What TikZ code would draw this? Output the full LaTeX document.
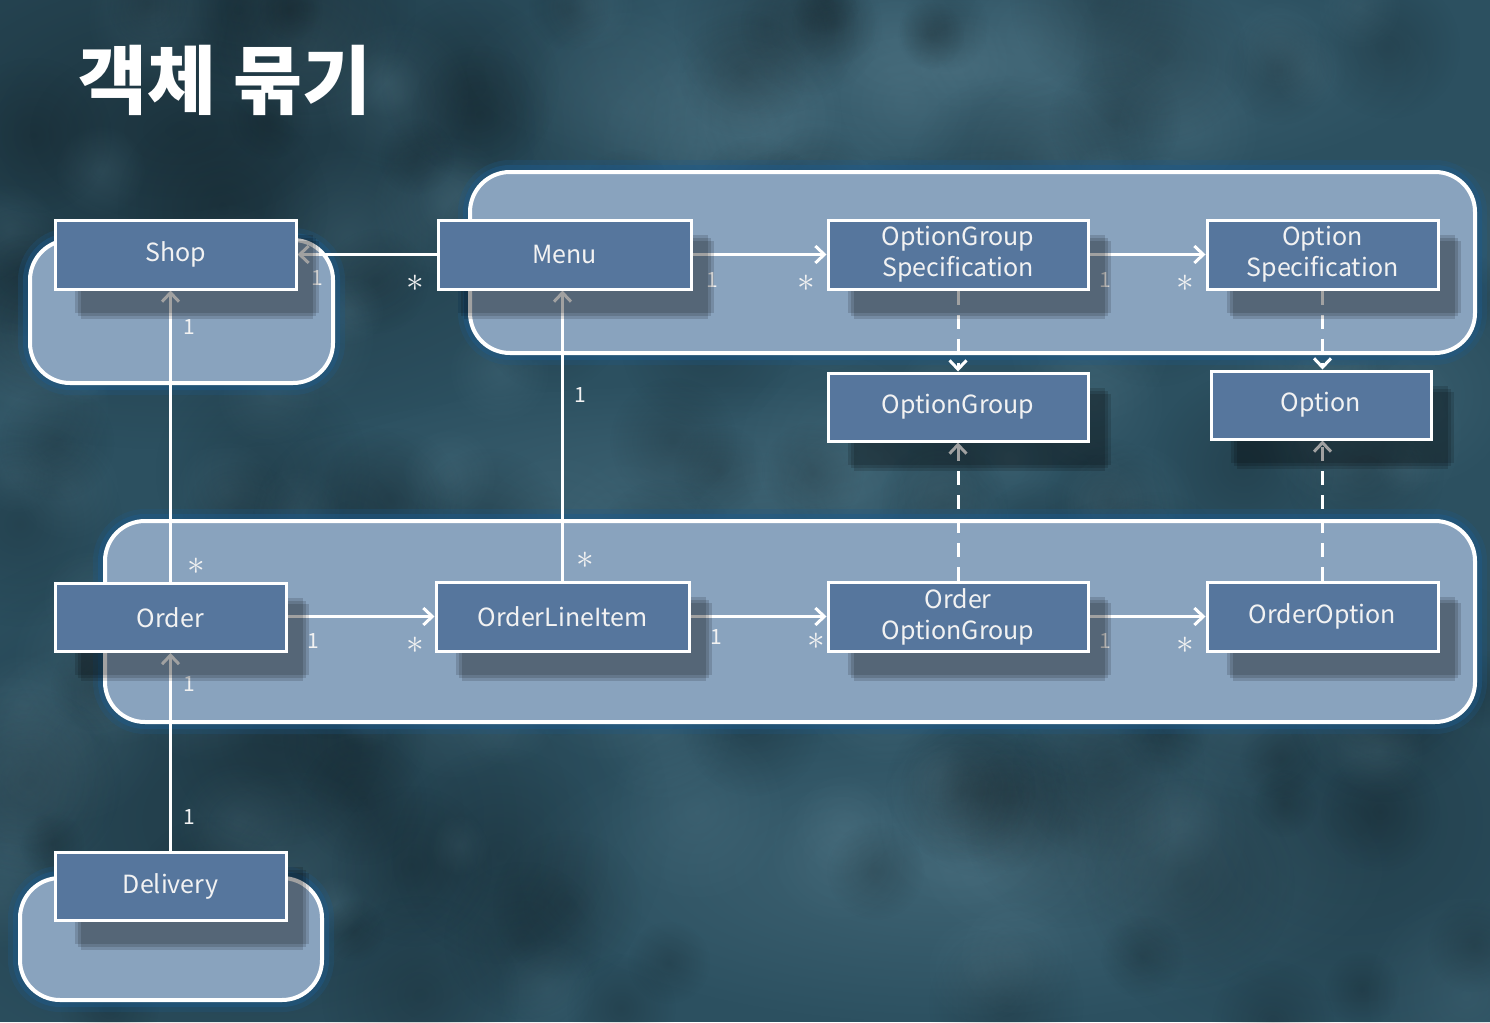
\documentclass[tikz,border=0pt]{standalone}
\usepackage{fontspec}
\setmainfont{Noto Sans CJK KR}
\usetikzlibrary{arrows.meta,fadings}
\definecolor{bgc}{HTML}{2C5060}
\definecolor{boxc}{HTML}{56769D}
\definecolor{contc}{HTML}{89A3BE}
\definecolor{glowc}{HTML}{1E5A8A}
\definecolor{lightbg}{HTML}{5A8090}
\definecolor{txtc}{HTML}{F2F2F2}
\tikzfading[name=softblob, inner color=transparent!0, outer color=transparent!100]
\pgfdeclarelayer{bg}
\pgfdeclarelayer{conn}
\pgfdeclarelayer{shad}
\pgfsetlayers{bg,conn,shad,main}
\newcommand{\mystar}{\scalebox{1.7}{$\ast$}}
\tikzset{
  cls/.style={draw=white, line width=3pt, fill=boxc, text=txtc, align=center,
    inner sep=0pt, font=\fontsize{25}{31}\selectfont},
  cont/.style={draw=white, line width=4pt, fill=contc, rounded corners=40pt},
  glowa/.style={draw=glowc, line width=24pt, opacity=0.25, rounded corners=40pt},
  glowb/.style={draw=glowc, line width=14pt, opacity=0.45, rounded corners=40pt},
  conn/.style={draw=white, line width=3pt, -{Straight Barb[length=9pt,width=17pt]}},
  dconn/.style={conn, dash pattern=on 14pt off 10pt},
  mult/.style={text=txtc, inner sep=0pt, font=\fontsize{21}{22}\selectfont},
  star/.style={text=txtc, inner sep=0pt, font=\fontsize{20}{22}\selectfont},
  shd/.style={fill=black, opacity=0.14},
}
\newcommand{\boxshadow}[1]{%
  \foreach \ins in {0,3,6}{%
  \fill[shd] ([shift={(21pt+\ins pt,-22pt-\ins pt)}]#1.south west) rectangle ([shift={(21pt-\ins pt,-22pt+\ins pt)}]#1.north east);}}
\begin{document}
\begin{tikzpicture}[x=1pt,y=-1pt]
\useasboundingbox (0,0) rectangle (1490,1022);
\begin{pgfonlayer}{bg}
\fill[bgc] (0,0) rectangle (1490,1022);
\fill[black, opacity=0.35, path fading=softblob] (180,130) ellipse (520 and 320);
\fill[black, opacity=0.25, path fading=softblob] (250,820) ellipse (420 and 300);
\fill[black, opacity=0.20, path fading=softblob] (1350,820) ellipse (300 and 260);
\fill[lightbg, opacity=0.40, path fading=softblob] (950,870) ellipse (450 and 160);
\fill[lightbg, opacity=0.45, path fading=softblob] (950,70) ellipse (500 and 130);
\fill[lightbg, opacity=0.30, path fading=softblob] (700,470) ellipse (450 and 90);
\pgfmathsetseed{11}
\foreach \i in {1,...,120}{
  \pgfmathsetmacro{\px}{rnd*1490}
  \pgfmathsetmacro{\py}{rnd*1022}
  \pgfmathsetmacro{\pr}{30+rnd*80}
  \fill[lightbg, opacity=0.22, path fading=softblob] (\px,\py) circle (\pr);
}
\foreach \i in {1,...,100}{
  \pgfmathsetmacro{\px}{rnd*1490}
  \pgfmathsetmacro{\py}{rnd*1022}
  \pgfmathsetmacro{\pr}{30+rnd*80}
  \fill[black, opacity=0.16, path fading=softblob] (\px,\py) circle (\pr);
}
% containers
\path[glowa] (30,240) rectangle (333,383);
\path[glowb] (30,240) rectangle (333,383);
\path[cont] (30,240) rectangle (333,383);
\path[glowa] (470,172) rectangle (1475,353);
\path[glowb] (470,172) rectangle (1475,353);
\path[cont] (470,172) rectangle (1475,353);
\path[glowa] (105,521) rectangle (1475,722);
\path[glowb] (105,521) rectangle (1475,722);
\path[cont] (105,521) rectangle (1475,722);
\path[glowa] (20,878) rectangle (322,1000);
\path[glowb] (20,878) rectangle (322,1000);
\path[cont] (20,878) rectangle (322,1000);
\end{pgfonlayer}

% title
\node[anchor=west, text=white, inner sep=0pt, font=\fontsize{75}{80}\selectfont\bfseries] (title) at (78,80) {객체 묶기};

% classes
\node[cls, minimum width=241pt, minimum height=69pt] (shop) at (175.5,254.5) {Shop};
\node[cls, minimum width=253pt, minimum height=69pt] (menu) at (564.5,254.5) {Menu};
\node[cls, minimum width=260pt, minimum height=69pt] (ogs) at (958,254.5) {OptionGroup\\Specification};
\node[cls, minimum width=231pt, minimum height=69pt] (os) at (1322.5,254.5) {Option\\Specification};
\node[cls, minimum width=260pt, minimum height=68pt] (og) at (958,407) {OptionGroup};
\node[cls, minimum width=220pt, minimum height=68pt] (opt) at (1321,405) {Option};
\node[cls, minimum width=231pt, minimum height=68pt] (order) at (170.5,617.5) {Order};
\node[cls, minimum width=253pt, minimum height=69pt] (oli) at (562.5,616.5) {OrderLineItem};
\node[cls, minimum width=260pt, minimum height=69pt] (oog) at (958,616.5) {Order\\OptionGroup};
\node[cls, minimum width=231pt, minimum height=69pt] (oo) at (1322.5,616.5) {OrderOption};
\node[cls, minimum width=231pt, minimum height=68pt] (del) at (170.5,886) {Delivery};

\begin{pgfonlayer}{shad}
\boxshadow{shop}\boxshadow{menu}\boxshadow{ogs}\boxshadow{os}
\boxshadow{og}\boxshadow{opt}\boxshadow{order}\boxshadow{oli}
\boxshadow{oog}\boxshadow{oo}\boxshadow{del}
\end{pgfonlayer}

\begin{pgfonlayer}{conn}
% associations
\draw[conn] (menu.west) -- (shop.east);
\draw[conn] (order.north) -- (order.north |- shop.south);
\draw[conn] (oli.north) -- (oli.north |- menu.south);
\draw[conn] (menu.east) -- (ogs.west);
\draw[conn] (ogs.east) -- (os.west);
\draw[dconn] (ogs.south) -- (og.north);
\draw[dconn] (os.south) -- (os.south |- opt.north);
\draw[conn] (order.east |- oli.west) -- (oli.west);
\draw[conn] (oli.east) -- (oog.west);
\draw[conn] (oog.east) -- (oo.west);
\draw[dconn] (oog.north) -- (og.south);
\draw[dconn] (oo.north) -- (oo.north |- opt.south);
\draw[conn] (del.north) -- (order.south);
% multiplicities
\node[mult] (m1) at (317,278) {1};
\node[star] (m2) at (415,283) {\mystar};
\node[mult] (m3) at (189,327) {1};
\node[star] (m4) at (196,566) {\mystar};
\node[mult] (m5) at (580,395) {1};
\node[star] (m6) at (585,560) {\mystar};
\node[mult] (m7) at (712,280) {1};
\node[star] (m8) at (806,283) {\mystar};
\node[mult] (m9) at (1105,280) {1};
\node[star] (m10) at (1185,283) {\mystar};
\node[mult] (m11) at (313,641) {1};
\node[star] (m12) at (415,645) {\mystar};
\node[mult] (m13) at (716,637) {1};
\node[star] (m14) at (816,641) {\mystar};
\node[mult] (m15) at (1105,641) {1};
\node[star] (m16) at (1185,645) {\mystar};
\node[mult] (m17) at (189,684) {1};
\node[mult] (m18) at (189,817) {1};
\end{pgfonlayer}
\end{tikzpicture}
\end{document}
